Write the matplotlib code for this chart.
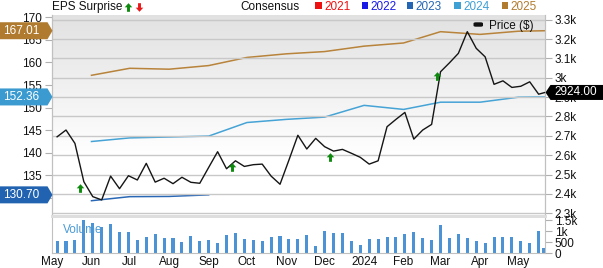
import numpy as np
import pandas as pd
import matplotlib
matplotlib.use('Agg')
import matplotlib.pyplot as plt
import matplotlib.dates as mdates
from matplotlib.path import Path
from matplotlib.patches import Polygon, Rectangle, FancyBboxPatch
from matplotlib.ticker import FixedLocator, FixedFormatter

plt.rcParams['font.family'] = ['Liberation Sans', 'DejaVu Sans']
plt.rcParams['font.size'] = 8.5

# ---------------- data ----------------
week_dates = list(pd.date_range('2023-05-05', periods=55, freq='7D'))
price_dates = week_dates + [pd.Timestamp('2024-05-22')]
price = [2695, 2730, 2661, 2463, 2386, 2369, 2492, 2427, 2494, 2472,
         2558, 2461, 2481, 2453, 2486, 2460, 2455, 2537, 2618, 2530,
         2571, 2542, 2551, 2554, 2492, 2450, 2575, 2703, 2632, 2687,
         2644, 2621, 2630, 2610, 2589, 2554, 2571, 2747, 2785, 2821,
         2683, 2730, 2759, 3031, 3077, 3126, 3238, 3152, 3108, 2966,
         2984, 2950, 2956, 2979, 2915, 2924]
volume_dates = week_dates + [pd.Timestamp('2024-05-21')]
volume = [556, 528, 602, 1500, 1389, 1190, 1329, 958, 958, 602,
          741, 852, 667, 681, 509, 773, 556, 588, 463, 819,
          898, 634, 602, 542, 713, 759, 620, 634,
          833, 310, 1005, 898, 912, 528, 370, 648, 648, 727,
          713, 866, 944, 681, 588, 1269, 681, 852, 681, 542,
          481, 713, 713, 727, 528, 463, 991, 231]

cons_dates = list(pd.date_range('2023-06-01', '2024-05-01', freq='MS')) + [pd.Timestamp('2024-05-22')]
cons_2025 = [157.15, 158.7, 158.5, 159.3, 161.1, 161.9, 162.4, 163.6, 164.3, 166.8, 166.2, 166.9, 167.01]
cons_2024 = [142.5, 143.3, 143.5, 143.7, 146.7, 147.4, 147.9, 150.5, 149.6, 151.2, 151.2, 152.3, 152.36]
cons_2023_dates = list(pd.date_range('2023-06-01', '2023-09-01', freq='MS'))
cons_2023 = [129.4, 130.3, 130.35, 130.7]

eps_dates = [pd.Timestamp(d) for d in ['2023-05-23', '2023-09-19', '2023-12-05', '2024-02-27']]
eps_y = [2433, 2539, 2590, 3009]

month_ticks = list(pd.date_range('2023-05-01', '2024-05-01', freq='MS'))
month_labels = ['May', 'Jun', 'Jul', 'Aug', 'Sep', 'Oct', 'Nov', 'Dec', '2024',
                'Feb', 'Mar', 'Apr', 'May']

left_ticks = [130, 135, 140, 145, 150, 155, 160, 165, 170]
price_ticks = list(range(2300, 3301, 100))
vol_ticks = [0, 500, 1000, 1500]
vol_labels = ['0', '500', '1k', '1.5k']

legend_years = ['2021', '2022', '2023', '2024', '2025']
year_colors = ['#ee1111', '#1a1ae6', '#2466b4', '#3fa0d4', '#b07b2f']

C2025 = '#b8833a'
C2024 = '#45a3d6'
C2023 = '#2a68b6'
TAG2025 = '#b07b2f'
TAG2024 = '#3b9bd0'
TAG2023 = '#2163b0'
GREEN = '#0d8a0d'
RED = '#e81818'
GRID = '#c8c8c8'

# ---------------- layout ----------------
W, H = 603, 268
fig = plt.figure(figsize=(W / 100, H / 100), dpi=100)
fx = lambda px: px / W
fy = lambda py: 1 - py / H

L, R, T, B = 52, 545, 15, 216
axC = fig.add_axes([fx(L), fy(B), fx(R) - fx(L), fy(T) - fy(B)])
axP = axC.twinx()
axV = fig.add_axes([fx(L), fy(253), fx(R) - fx(L), fy(218) - fy(253)], sharex=axC)

xlim = (pd.Timestamp('2023-05-01'), pd.Timestamp('2024-05-22'))
ylimC = (126.02, 170.49)

# background gradient (white lower part, light grey towards the top)
t = np.linspace(0, 1, 256)
shade = np.where(t > 0.3, 1 - 0.115 * (t - 0.3) / 0.7, 1.0)
grad = np.repeat(shade[:, None, None], 3, axis=2)
xn = mdates.date2num(list(xlim))
axC.imshow(grad, extent=[xn[0], xn[1], ylimC[0], ylimC[1]], aspect='auto',
           origin='lower', interpolation='bilinear', zorder=0)

# consensus lines (left axis)
axC.plot(cons_dates, cons_2025, color=C2025, lw=1.1, zorder=2)
axC.plot(cons_dates, cons_2024, color=C2024, lw=1.1, zorder=2)
axC.plot(cons_2023_dates, cons_2023, color=C2023, lw=1.1, zorder=2)
axC.set_xlim(*xlim)
axC.set_ylim(*ylimC)
axC.yaxis.set_major_locator(FixedLocator(left_ticks))
axC.yaxis.set_major_formatter(FixedFormatter([str(v) for v in left_ticks]))
axC.tick_params(axis='y', left=True, labelleft=True, length=5, width=0.8,
                color='#b0b0b0', pad=2, labelsize=8.5, labelcolor='#111111')
axC.tick_params(axis='x', bottom=False, labelbottom=False)

# price (right axis)
axP.set_ylim(2286, 3324)
axP.yaxis.set_major_locator(FixedLocator(price_ticks))
axP.yaxis.set_major_formatter(FixedFormatter([f"{v / 1000:g}k" for v in price_ticks]))
axP.tick_params(axis='y', right=True, labelright=True, length=5, width=0.8,
                color='#b0b0b0', pad=2, labelsize=8.5, labelcolor='#111111')
axP.xaxis.set_major_locator(FixedLocator(mdates.date2num(month_ticks)))
axP.tick_params(axis='x', bottom=False, labelbottom=False)
axP.grid(True, color=GRID, lw=1.0, zorder=1)
axP.plot(price_dates, price, color='#151515', lw=1.0, zorder=3)

# EPS surprise arrows
up = Path([(0, 0.5), (0.44, 0.02), (0.17, 0.02), (0.17, -0.5), (-0.17, -0.5),
           (-0.17, 0.02), (-0.44, 0.02), (0, 0.5)])
down = Path([(x, -y) for x, y in up.vertices])
axP.plot(eps_dates, eps_y, linestyle='none', marker=up, markersize=6.2,
         color=GREEN, markeredgewidth=0, zorder=4)

for ax in (axC, axP):
    ax.spines['top'].set_visible(False)
    ax.spines['left'].set_color('#c0c0c0')
    ax.spines['right'].set_color('#c0c0c0')
    ax.spines['bottom'].set_color('#dedede')
    ax.spines['bottom'].set_linewidth(2)

# volume panel
axV.bar(volume_dates, volume, width=2.4, color='#4b93d4', zorder=2)
axV.set_ylim(0, 1606)
axV.set_xlim(*xlim)
axV.yaxis.tick_right()
axV.yaxis.set_major_locator(FixedLocator(vol_ticks))
axV.yaxis.set_major_formatter(FixedFormatter(vol_labels))
axV.tick_params(axis='y', length=5, width=0.8, color='#b0b0b0', pad=2,
                labelsize=8.5, labelcolor='#111111')
axV.xaxis.set_major_locator(FixedLocator(mdates.date2num(month_ticks)))
axV.xaxis.set_major_formatter(FixedFormatter(month_labels))
axV.tick_params(axis='x', length=0, pad=2, labelsize=8.5, labelcolor='#111111')
axV.set_facecolor('white')
axV.spines['top'].set_visible(False)
for s in ('left', 'right', 'bottom'):
    axV.spines[s].set_color('#c0c0c0')
fig.text(fx(62.7), fy(233.3), 'Volume', color='#4a9ad6', ha='left', va='baseline', fontsize=8.5)

# ---------------- tags ----------------
def disp_y(ax, v):
    return ax.transData.transform((0, v))[1]

def left_tag(ax, v, color):
    yc = disp_y(ax, v)
    h = 8.5
    pts = [(0, yc - h), (47.5, yc - h), (52.5, yc), (47.5, yc + h), (0, yc + h)]
    pts = [(x / W, y / H) for x, y in pts]
    fig.add_artist(Polygon(pts, closed=True, transform=fig.transFigure,
                           facecolor=color, edgecolor='none', zorder=5))
    fig.text(21.5 / W, yc / H, f"{v:.2f}", color='white', ha='center', va='center',
             fontsize=8.5, zorder=6)

def right_tag(ax, v, color):
    yc = disp_y(ax, v)
    h = 7.5
    pts = [(545.5, yc), (550.5, yc - h), (603, yc - h), (603, yc + h), (550.5, yc + h)]
    pts = [(x / W, y / H) for x, y in pts]
    fig.add_artist(Polygon(pts, closed=True, transform=fig.transFigure,
                           facecolor=color, edgecolor='none', zorder=5))
    fig.text(576 / W, yc / H, f"{v:.2f}", color='white', ha='center', va='center',
             fontsize=8.5, zorder=6)

left_tag(axC, cons_2025[-1], TAG2025)
left_tag(axC, cons_2024[-1], TAG2024)
left_tag(axC, cons_2023[-1], TAG2023)
right_tag(axP, price[-1], '#000000')

# ---------------- legends ----------------
fig.text(fx(52.3), fy(10), 'EPS Surprise', ha='left', va='baseline', fontsize=8.5, color='#111111')
fig.lines.append(matplotlib.lines.Line2D([fx(128.3)], [fy(6.7)], transform=fig.transFigure,
                 marker=up, markersize=6.2, color=GREEN, markeredgewidth=0, linestyle='none'))
fig.lines.append(matplotlib.lines.Line2D([fx(138.8)], [fy(6.7)], transform=fig.transFigure,
                 marker=down, markersize=6.2, color=RED, markeredgewidth=0, linestyle='none'))

fig.text(fx(240.7), fy(10), 'Consensus', ha='left', va='baseline', fontsize=8.5, color='#111111')
sq_x = [315, 361.7, 406.7, 454, 501.7]
for x0, yr, col in zip(sq_x, legend_years, year_colors):
    fig.add_artist(Rectangle((fx(x0), fy(8.5)), 6.7 / W, 6.7 / H, transform=fig.transFigure,
                             facecolor=col, edgecolor='none'))
    fig.text(fx(x0 + 9), fy(10), yr, ha='left', va='baseline', fontsize=8.5, color=col)

fig.add_artist(FancyBboxPatch((fx(473.5), fy(26.7)), 9.5 / W, 4.4 / H,
                              boxstyle='round,pad=0,rounding_size=0.004',
                              transform=fig.transFigure, facecolor='#111111', edgecolor='none'))
fig.text(fx(489), fy(29), 'Price ($)', ha='left', va='baseline', fontsize=8.5, color='#111111')

fig.savefig('out.png', dpi=100)
